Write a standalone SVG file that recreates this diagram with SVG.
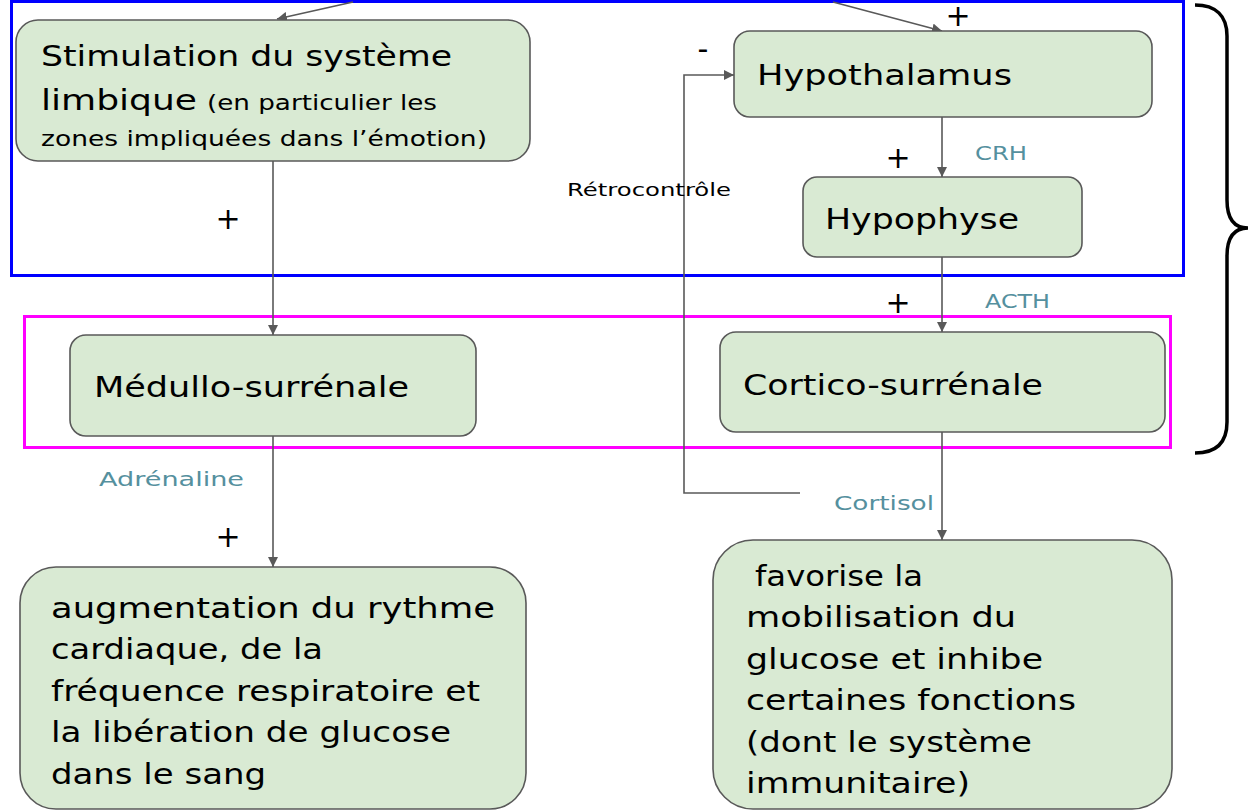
<svg xmlns="http://www.w3.org/2000/svg" width="1250" height="811" viewBox="0 0 1250 811">
  <defs>
    <marker id="arr" viewBox="0 0 10 10" refX="10" refY="5" markerWidth="10" markerHeight="10" markerUnits="userSpaceOnUse" orient="auto">
      <path d="M0,0 L10,5 L0,10 Z" fill="#595959"/>
    </marker>
    <style>
      .node { fill: #d9ead3; stroke: #595959; stroke-width: 1.6; }
      .t { font-family: "DejaVu Sans", "Liberation Sans", sans-serif; fill: #000; }
      .big { font-size: 29px; }
      .small { font-size: 21px; }
      .lab { font-family: "DejaVu Sans", "Liberation Sans", sans-serif; font-size: 20px; fill: #55909e; }
      .sign { font-family: "DejaVu Sans", "Liberation Sans", sans-serif; font-size: 30px; fill: #000; }
      .conn { fill: none; stroke: #595959; stroke-width: 1.6; }
    </style>
  </defs>
  <rect width="1250" height="811" fill="#ffffff"/>

  <!-- grouping frames -->
  <rect x="11.5" y="1.5" width="1172" height="274" fill="none" stroke="#0000ff" stroke-width="3"/>
  <rect x="24.5" y="316.5" width="1146" height="131" fill="none" stroke="#ff00ff" stroke-width="3"/>

  <!-- brace -->
  <path d="M1195,5 C1216,5 1227,16 1227,36 L1227,200 C1227,218 1234,228 1248,228 C1234,228 1227,238 1227,256 L1227,422 C1227,443 1216,453 1195,453" fill="none" stroke="#000" stroke-width="3.5"/>

  <!-- connectors -->
  <g id="connectors">
    <path class="conn" d="M353,2 L277,19" marker-end="url(#arr)"/>
    <path class="conn" d="M833,2 L942,31" marker-end="url(#arr)"/>
    <path class="conn" d="M273,161 L273,335" marker-end="url(#arr)"/>
    <path class="conn" d="M273,436 L273,567" marker-end="url(#arr)"/>
    <path class="conn" d="M942,117 L942,177" marker-end="url(#arr)"/>
    <path class="conn" d="M942,257 L942,332" marker-end="url(#arr)"/>
    <path class="conn" d="M942,432 L942,540" marker-end="url(#arr)"/>
    <path class="conn" d="M800,493 L684,493 L684,75 L734,75" marker-end="url(#arr)"/>
    <text class="sign" x="958" y="26" font-size="27" text-anchor="middle">+</text>
    <text class="sign" x="703" y="59" text-anchor="middle">-</text>
    <text class="sign" x="228" y="229" text-anchor="middle">+</text>
    <text class="sign" x="898" y="168" text-anchor="middle">+</text>
    <text class="sign" x="898" y="313" text-anchor="middle">+</text>
    <text class="sign" x="228" y="547" text-anchor="middle">+</text>
    <text class="lab" x="975" y="160" textLength="52" lengthAdjust="spacingAndGlyphs">CRH</text>
    <text class="lab" x="985" y="308" textLength="65" lengthAdjust="spacingAndGlyphs">ACTH</text>
    <text class="lab" x="99" y="486" textLength="145" lengthAdjust="spacingAndGlyphs">Adrénaline</text>
    <text class="lab" x="834" y="510" textLength="100" lengthAdjust="spacingAndGlyphs">Cortisol</text>
    <text class="t" x="567" y="196" font-size="18" textLength="164" lengthAdjust="spacingAndGlyphs">Rétrocontrôle</text>
  </g>

  <g id="stimulation">
    <rect class="node" x="16" y="20" width="514" height="141" rx="22"/>
    <text class="t big" x="41" y="66" textLength="411" lengthAdjust="spacingAndGlyphs">Stimulation du système</text>
    <text class="t big" x="41" y="110" textLength="156" lengthAdjust="spacingAndGlyphs">limbique</text>
    <text class="t small" x="207" y="110" textLength="230" lengthAdjust="spacingAndGlyphs">(en particulier les</text>
    <text class="t small" x="41" y="146" textLength="446" lengthAdjust="spacingAndGlyphs">zones impliquées dans l’émotion)</text>
  </g>

  <g id="hypothalamus">
    <rect class="node" x="734" y="31" width="418" height="86" rx="16"/>
    <text class="t big" x="757" y="85" textLength="255" lengthAdjust="spacingAndGlyphs">Hypothalamus</text>
  </g>

  <g id="hypophyse">
    <rect class="node" x="803" y="177" width="279" height="80" rx="14"/>
    <text class="t big" x="825" y="229" textLength="194" lengthAdjust="spacingAndGlyphs">Hypophyse</text>
  </g>

  <g id="medullo">
    <rect class="node" x="70" y="335" width="406" height="101" rx="16"/>
    <text class="t big" x="94" y="397" textLength="315" lengthAdjust="spacingAndGlyphs">Médullo-surrénale</text>
  </g>

  <g id="cortico">
    <rect class="node" x="720" y="332" width="445" height="100" rx="16"/>
    <text class="t big" x="743" y="395" textLength="300" lengthAdjust="spacingAndGlyphs">Cortico-surrénale</text>
  </g>

  <g id="effets-adrenaline">
    <rect class="node" x="20" y="567" width="506" height="242" rx="36"/>
    <text class="t big" x="51" y="618" textLength="444" lengthAdjust="spacingAndGlyphs">augmentation du rythme</text>
    <text class="t big" x="51" y="659" textLength="272" lengthAdjust="spacingAndGlyphs">cardiaque, de la</text>
    <text class="t big" x="51" y="701" textLength="429" lengthAdjust="spacingAndGlyphs">fréquence respiratoire et</text>
    <text class="t big" x="51" y="742" textLength="400" lengthAdjust="spacingAndGlyphs">la libération de glucose</text>
    <text class="t big" x="51" y="784" textLength="215" lengthAdjust="spacingAndGlyphs">dans le sang</text>
  </g>

  <g id="effets-cortisol">
    <rect class="node" x="713" y="540" width="459" height="269" rx="40"/>
    <text class="t big" x="755" y="586" textLength="168" lengthAdjust="spacingAndGlyphs">favorise la</text>
    <text class="t big" x="746" y="627" textLength="270" lengthAdjust="spacingAndGlyphs">mobilisation du</text>
    <text class="t big" x="746" y="669" textLength="297" lengthAdjust="spacingAndGlyphs">glucose et inhibe</text>
    <text class="t big" x="746" y="710" textLength="330" lengthAdjust="spacingAndGlyphs">certaines fonctions</text>
    <text class="t big" x="746" y="752" textLength="286" lengthAdjust="spacingAndGlyphs">(dont le système</text>
    <text class="t big" x="746" y="793" textLength="224" lengthAdjust="spacingAndGlyphs">immunitaire)</text>
  </g>
</svg>
